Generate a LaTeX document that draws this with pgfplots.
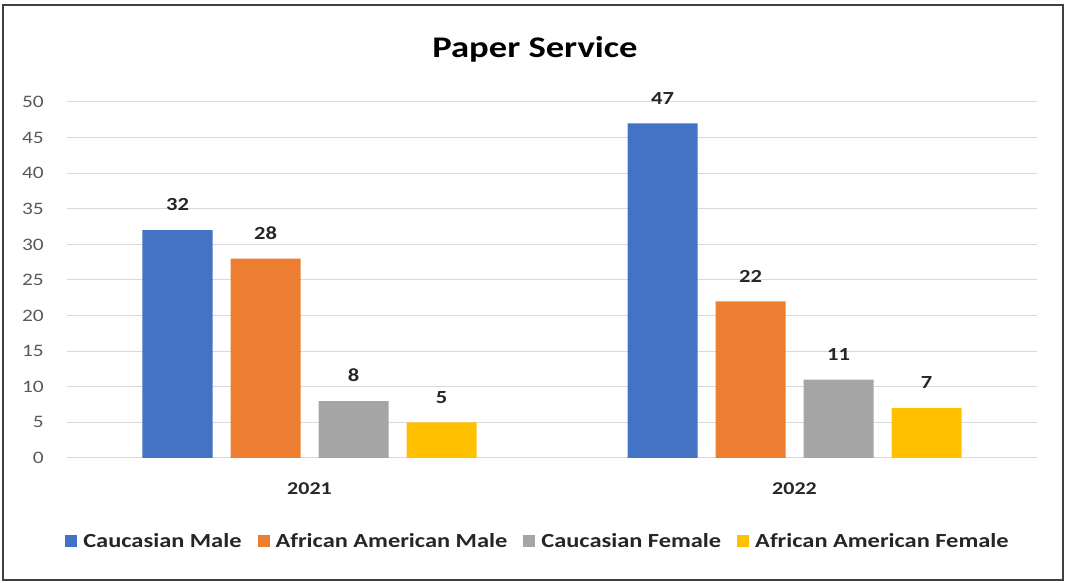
\documentclass[border=0pt]{standalone}
\usepackage{pgfplots}
\pgfplotsset{compat=1.18}
\usepackage{fontspec}
\setmainfont{Carlito}[FakeStretch=1.22]
\definecolor{cblue}{HTML}{4472C4}
\definecolor{corange}{HTML}{ED7D31}
\definecolor{cgray}{HTML}{A5A5A5}
\definecolor{cyellow}{HTML}{FFC000}
\definecolor{gridc}{HTML}{D9D9D9}
\definecolor{tickc}{HTML}{595959}
\definecolor{framec}{HTML}{404040}
\definecolor{labc}{HTML}{262626}
\begin{document}
\begin{tikzpicture}
\path[use as bounding box] (-67pt,-125pt) rectangle (1001pt,458pt);
\draw[line width=2pt, color=framec] (-64pt,-122pt) rectangle (996pt,453pt);
\begin{axis}[
  at={(0pt,0pt)}, anchor=south west,
  scale only axis, width=970pt, height=356pt,
  xmin=-0.5, xmax=1.5, ymin=0, ymax=50,
  xtick={0,1}, xticklabels={2021,2022},
  ytick={0,5,...,50},
  ymajorgrids, grid style={color=gridc, line width=1pt},
  axis line style={draw=none},
  major tick length=0pt,
  /pgf/number format/assume math mode=true,
  yticklabel style={font=\fontsize{17.5}{18}\selectfont, color=tickc, anchor=east, inner sep=0pt, xshift=-23pt},
  xticklabel style={font=\bfseries\fontsize{18}{19}\selectfont, color=labc, anchor=base, inner sep=0pt, yshift=-37pt},
  mybar/.style 2 args={ybar, draw=none, fill=#1, bar width=70pt, bar shift=#2,
     nodes near coords,
     every node near coord/.append style={font=\bfseries\fontsize{18.5}{19}\selectfont, color=labc, anchor=south, inner sep=0pt, yshift=19pt, xshift=#2},
     legend image code/.code={\fill[##1] (0pt,-6pt) rectangle (12pt,6pt);}},
  legend columns=4,
  legend style={draw=none, at={(0.4856,-0.233)}, anchor=center,
     font=\bfseries\fontsize{20}{21}\selectfont, text=labc,
     /tikz/every odd column/.append style={column sep=4pt},
     /tikz/every even column/.append style={column sep=14pt},
     nodes={inner sep=2pt}},
]
\addplot[mybar={cblue}{-132pt}] coordinates {(0,32) (1,47)};
\addplot[mybar={corange}{-44pt}] coordinates {(0,28) (1,22)};
\addplot[mybar={cgray}{44pt}] coordinates {(0,8) (1,11)};
\addplot[mybar={cyellow}{132pt}] coordinates {(0,5) (1,7)};
\legend{Caucasian Male, African American Male, Caucasian Female, African American Female}
\end{axis}
\node[anchor=base, font=\bfseries\fontsize{30}{31}\selectfont, color=black] at (468pt,400pt) {Paper Service};
\end{tikzpicture}
\end{document}
